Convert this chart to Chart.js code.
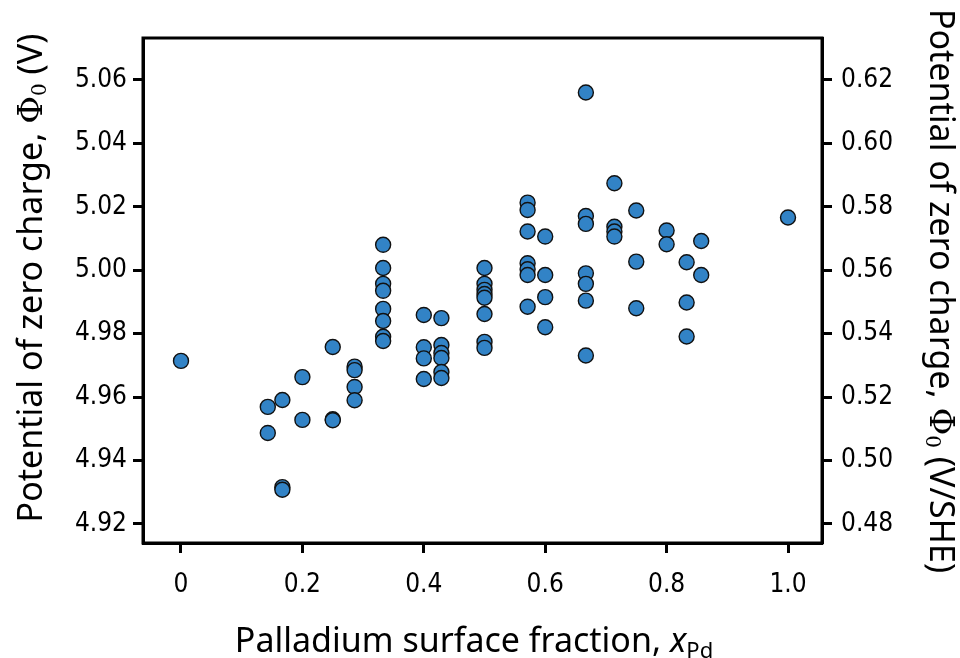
<!DOCTYPE html>
<html lang="en">
<head>
    <meta charset="UTF-8">
    <title>Potential of zero charge vs Pd surface fraction</title>
    <script src="https://cdn.jsdelivr.net/npm/chart.js"></script>
    <style>
        body {
            margin: 0;
            padding: 0;
            background-color: #fff;
        }
        #chartBox {
            width: 960px;
            height: 658px;
        }
    </style>
</head>
<body>
    <div id="chartBox">
        <canvas id="myChart" width="960" height="658"></canvas>
    </div>
    <script>
        // Pd surface fraction of each sample
        const xPd = [
            0,
            0.143, 0.143,
            0.167, 0.167, 0.167,
            0.2, 0.2,
            0.25, 0.25, 0.25,
            0.286, 0.286, 0.286, 0.286,
            0.333, 0.333, 0.333, 0.333, 0.333, 0.333, 0.333, 0.333,
            0.4, 0.4, 0.4, 0.4,
            0.429, 0.429, 0.429, 0.429, 0.429, 0.429,
            0.5, 0.5, 0.5, 0.5, 0.5, 0.5, 0.5, 0.5,
            0.571, 0.571, 0.571, 0.571, 0.571, 0.571, 0.571,
            0.6, 0.6, 0.6, 0.6,
            0.667, 0.667, 0.667, 0.667, 0.667, 0.667, 0.667,
            0.714, 0.714, 0.714, 0.714,
            0.75, 0.75, 0.75,
            0.8, 0.8,
            0.833, 0.833, 0.833,
            0.857, 0.857,
            1.0
        ];
        // potential of zero charge (V)
        const pzc = [
            4.9714,
            4.9569, 4.9487,
            4.9591, 4.9316, 4.9308,
            4.9663, 4.9528,
            4.9758, 4.9530, 4.9527,
            4.9696, 4.9685, 4.9632, 4.9590,
            5.0080, 5.0007, 4.9957, 4.9935, 4.9878, 4.9840, 4.9790, 4.9777,
            4.9859, 4.9757, 4.9722, 4.9657,
            4.9849, 4.9764, 4.9739, 4.9723, 4.9679, 4.9660,
            5.0007, 4.9957, 4.9938, 4.9925, 4.9913, 4.9862, 4.9774, 4.9755,
            5.0213, 5.0190, 5.0122, 5.0022, 5.0003, 4.9985, 4.9885,
            5.0106, 4.9985, 4.9915, 4.9820,
            5.0560, 5.0171, 5.0146, 4.9990, 4.9957, 4.9904, 4.9731,
            5.0274, 5.0137, 5.0122, 5.0106,
            5.0188, 5.0027, 4.9880,
            5.0125, 5.0082,
            5.0025, 4.9898, 4.9791,
            5.0092, 4.9985,
            5.0166
        ];

        const xTicks = [0, 0.2, 0.4, 0.6, 0.8, 1.0];
        const xTickLabels = ['0', '0.2', '0.4', '0.6', '0.8', '1.0'];
        const leftTicks = [4.92, 4.94, 4.96, 4.98, 5.00, 5.02, 5.04, 5.06];
        const rightTicks = [0.48, 0.50, 0.52, 0.54, 0.56, 0.58, 0.60, 0.62];
        const sheOffset = 4.44; // V -> V/SHE

        const yMin = 4.914, yMax = 5.0732;

        const tickFont = {family: "'Liberation Sans Narrow', 'DejaVu Sans Condensed', sans-serif", size: 26};
        const titleFamily = "'Noto Sans', sans-serif";

        // draws a line of mixed-style text (for sub/italic bits)
        function drawRich(ctx, parts, cx, cy, angle) {
            ctx.save();
            ctx.translate(cx, cy);
            ctx.rotate(angle);
            let total = 0;
            parts.forEach(p => { ctx.font = p.font; total += ctx.measureText(p.text).width; });
            let x = -total / 2;
            ctx.fillStyle = '#000';
            ctx.textBaseline = 'alphabetic';
            ctx.textAlign = 'left';
            parts.forEach(p => {
                ctx.font = p.font;
                ctx.fillText(p.text, x, p.dy || 0);
                x += ctx.measureText(p.text).width;
            });
            ctx.restore();
        }

        const framePlugin = {
            id: 'frame',
            afterDraw(chart) {
                const ctx = chart.ctx;
                const a = chart.chartArea;
                ctx.save();
                ctx.strokeStyle = '#000';
                ctx.lineWidth = 3;
                ctx.strokeRect(a.left, a.top, a.right - a.left, a.bottom - a.top);
                ctx.restore();

                const big = '34px ' + titleFamily;
                const sub = '22px ' + titleFamily;
                const phi = "34px 'DejaVu Serif', serif";
                const phiSub = "20px 'DejaVu Serif', serif";

                drawRich(ctx, [
                    {text: 'Palladium surface fraction, ', font: big},
                    {text: 'x', font: 'italic ' + big},
                    {text: 'Pd', font: sub, dy: 6}
                ], 474, 652, 0);

                drawRich(ctx, [
                    {text: 'Potential of zero charge, ', font: big},
                    {text: '\u03A6', font: phi},
                    {text: '0', font: phiSub, dy: 4},
                    {text: ' (V)', font: big}
                ], 42, 278, -Math.PI / 2);

                drawRich(ctx, [
                    {text: 'Potential of zero charge, ', font: big},
                    {text: '\u03A6', font: phi},
                    {text: '0', font: phiSub, dy: 4},
                    {text: ' (V/SHE)', font: big}
                ], 930, 291, Math.PI / 2);
            }
        };

        const points = xPd.map((x, i) => ({x: x, y: pzc[i]}));

        const axisGrid = {
            drawOnChartArea: false,
            drawTicks: true,
            tickLength: 10,
            tickWidth: 3,
            tickColor: '#000'
        };

        const myChart = new Chart(document.getElementById('myChart'), {
            type: 'scatter',
            data: {
                datasets: [{
                    label: 'PZC',
                    data: points,
                    yAxisID: 'y',
                    pointRadius: 7.5,
                    pointHoverRadius: 7.5,
                    pointBackgroundColor: '#3283c6',
                    pointBorderColor: '#111',
                    pointBorderWidth: 1.4
                }]
            },
            options: {
                responsive: false,
                animation: false,
                layout: {padding: {top: 38, left: 0, right: 0, bottom: 0}},
                plugins: {
                    legend: {display: false},
                    tooltip: {enabled: false}
                },
                scales: {
                    x: {
                        type: 'linear',
                        min: -0.0626,
                        max: 1.056,
                        afterBuildTicks: s => { s.ticks = xTicks.map(v => ({value: v})); },
                        afterFit: s => { s.height = 115; },
                        grid: axisGrid,
                        border: {display: true, color: '#000', width: 3},
                        ticks: {
                            color: '#000',
                            font: tickFont,
                            padding: 17,
                            callback: (v, i) => xTickLabels[i]
                        }
                    },
                    y: {
                        type: 'linear',
                        position: 'left',
                        min: yMin,
                        max: yMax,
                        afterBuildTicks: s => { s.ticks = leftTicks.map(v => ({value: v})); },
                        afterFit: s => { s.width = 143; },
                        grid: axisGrid,
                        border: {display: true, color: '#000', width: 3},
                        ticks: {
                            color: '#000',
                            font: tickFont,
                            padding: 6,
                            callback: v => v.toFixed(2)
                        }
                    },
                    y2: {
                        type: 'linear',
                        position: 'right',
                        min: yMin - sheOffset,
                        max: yMax - sheOffset,
                        afterBuildTicks: s => { s.ticks = rightTicks.map(v => ({value: v})); },
                        afterFit: s => { s.width = 138; },
                        grid: axisGrid,
                        border: {display: true, color: '#000', width: 3},
                        ticks: {
                            color: '#000',
                            font: tickFont,
                            padding: 9,
                            callback: v => v.toFixed(2)
                        }
                    }
                }
            },
            plugins: [framePlugin]
        });
    </script>
</body>
</html>
